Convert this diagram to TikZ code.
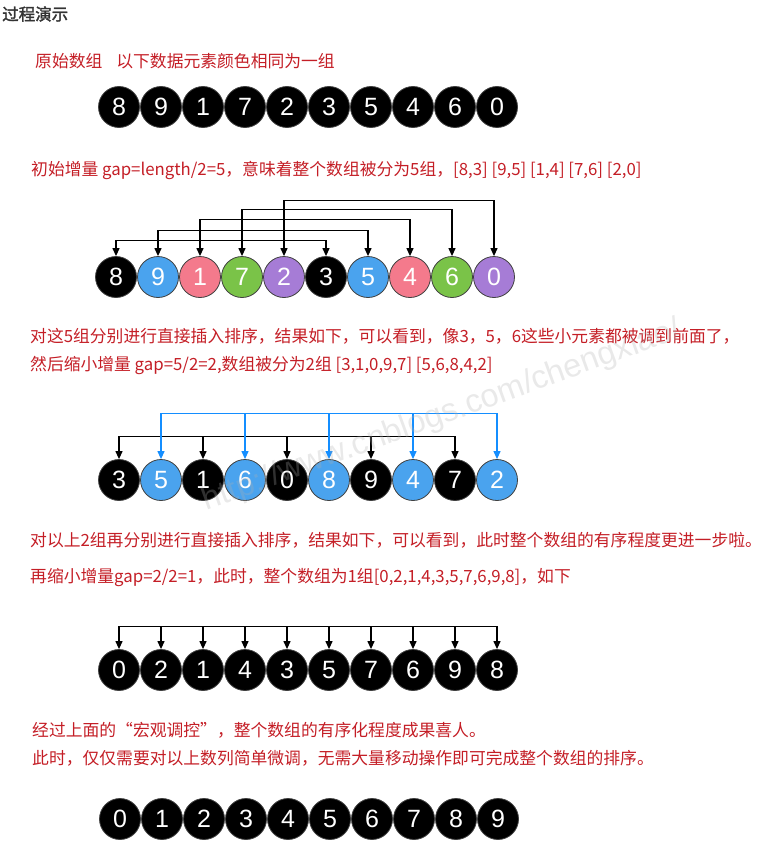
\documentclass[tikz,border=0pt]{standalone}
\usepackage{fontspec}
\setmainfont{Liberation Sans}
\newfontfamily\cjk[AutoFakeBold=2]{Noto Sans CJK SC}
\usetikzlibrary{arrows.meta}

\definecolor{txtred}{RGB}{196,30,38}
\definecolor{titlegray}{RGB}{51,51,51}
\definecolor{cblue}{RGB}{74,163,238}
\definecolor{cpink}{RGB}{244,122,140}
\definecolor{cgreen}{RGB}{122,195,72}
\definecolor{cpurple}{RGB}{166,124,214}
\definecolor{cline}{RGB}{20,142,255}
\definecolor{wmgray}{RGB}{175,175,175}

\tikzset{
    >={Triangle[length=8pt,width=7pt]},
    ball/.style={circle, draw=black!75, line width=0.8pt, fill=black, text=white,
        minimum size=41pt, inner sep=0pt, font=\fontsize{25}{25}\selectfont},
    note/.style={anchor=west, inner sep=0pt, text=txtred, font=\cjk\fontsize{16.8}{17}\selectfont},
    title/.style={anchor=west, inner sep=0pt, text=titlegray, font=\cjk\bfseries\fontsize{16.5}{17}\selectfont},
    link/.style={line width=1.2pt},
    watermark/.style={rotate=20, text=wmgray, text opacity=0.28, font=\fontsize{32.5}{33}\selectfont},
}

\begin{document}
\begin{tikzpicture}[x=1pt, y=-1pt]
    \useasboundingbox (0,0) rectangle (762,856);

    \node[title] (title) at (2,14) {过程演示};
    \node[note] (t1) at (35,61) {原始数组\hspace{14pt}以下数据元素颜色相同为一组};

    % original array
    \foreach \v [count=\i] in {8,9,1,7,2,3,5,4,6,0}
        \node[ball] (a\i) at (77+42*\i,107) {\v};

    \node[note] (t2) at (31,170) {初始增量 gap=length/2=5，意味着整个数组被分为5组，[8,3] [9,5] [1,4] [7,6] [2,0]};

    % gap = 5
    \foreach \v/\c [count=\i] in {8/black,9/cblue,1/cpink,7/cgreen,2/cpurple,3/black,5/cblue,4/cpink,6/cgreen,0/cpurple}
        \node[ball, fill=\c] (b\i) at (74+42*\i,277) {\v};
    \foreach \i/\j/\h in {1/6/16,2/7/26,3/8/37,4/9/47,5/10/56}
        \draw[link, <->] (b\i.north) -- ++(0,-\h) -| (b\j.north);

    \node[note] (t3) at (30,336) {对这5组分别进行直接插入排序，结果如下，可以看到，像3，5，6这些小元素都被调到前面了，};
    \node[note] (t4) at (30,365) {然后缩小增量 gap=5/2=2,数组被分为2组 [3,1,0,9,7] [5,6,8,4,2]};

    % gap = 2
    \foreach \v/\c [count=\i] in {3/black,5/cblue,1/black,6/cblue,0/black,8/cblue,9/black,4/cblue,7/black,2/cblue}
        \node[ball, fill=\c] (c\i) at (77+42*\i,480) {\v};
    \draw[link, <->] (c1.north) -- ++(0,-23) -| (c9.north);
    \foreach \i in {3,5,7}
        \draw[link, ->] (c\i.north) ++(0,-23) -- (c\i.north);
    \draw[link, <->, cline] (c2.north) -- ++(0,-46) -| (c10.north);
    \foreach \i in {4,6,8}
        \draw[link, ->, cline] (c\i.north) ++(0,-46) -- (c\i.north);

    \node[note] (t5) at (30,540) {对以上2组再分别进行直接插入排序，结果如下，可以看到，此时整个数组的有序程度更进一步啦。};
    \node[note] (t6) at (30,578) {再缩小增量gap=2/2=1，此时，整个数组为1组[0,2,1,4,3,5,7,6,9,8]，如下};

    % gap = 1
    \foreach \v [count=\i] in {0,2,1,4,3,5,7,6,9,8}
        \node[ball] (d\i) at (77+42*\i,670) {\v};
    \draw[link, <->] (d1.north) -- ++(0,-23) -| (d10.north);
    \foreach \i in {2,...,9}
        \draw[link, ->] (d\i.north) ++(0,-23) -- (d\i.north);

    \node[note] (t7) at (32,730) {经过上面的“宏观调控”，整个数组的有序化程度成果喜人。};
    \node[note] (t8) at (32,758) {此时，仅仅需要对以上数列简单微调，无需大量移动操作即可完成整个数组的排序。};

    % sorted
    \foreach \v [count=\i] in {0,...,9}
        \node[ball] (e\i) at (78+42*\i,819) {\v};

    \node[watermark] (wm) at (442,416) {http://www.cnblogs.com/chengxiao/};
\end{tikzpicture}
\end{document}
